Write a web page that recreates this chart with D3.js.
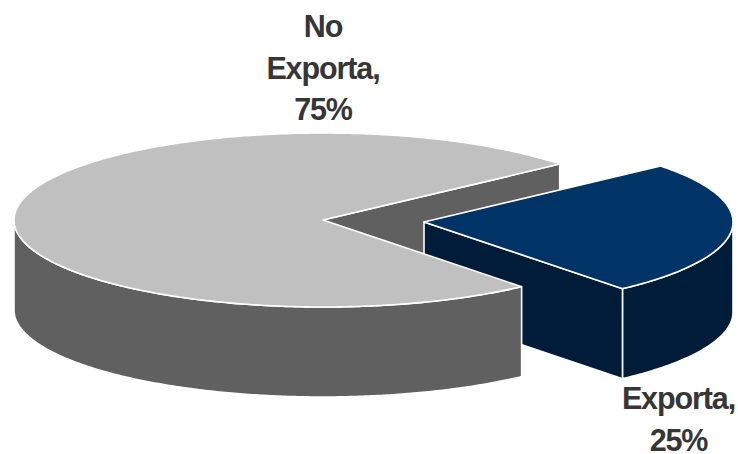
<!DOCTYPE html>
<html>
<head>
<meta charset="utf-8">
<script src="https://cdn.jsdelivr.net/npm/d3@7/dist/d3.min.js"></script>
<style>
  html, body { margin: 0; padding: 0; background: #fff; overflow: hidden; }
  svg { display: block; }
  text { font-family: "Liberation Sans", Arial, sans-serif; font-weight: bold; fill: #363636; }
</style>
</head>
<body>
<svg id="chart" width="738" height="454"></svg>
<script>
// Share of firms by export status
const categories = ["Exporta", "No Exporta"];
const shares = [25, 75];
const labelLines = [["Exporta,", "25%"], ["No", "Exporta,", "75%"]];
const topColors = ["#003366", "#C0C0C0"];
const wallColors = ["#001C38", "#606060"];

const radiusX = 309, radiusY = 87, depth = 90;
// Pie centres: the exporting slice is pulled out to the right
const centres = [[424, 222], [323, 220]];
const labelAnchors = [[678.5, 409], [323, 37]];
const lineHeight = 41.5, fontSize = 30.5;

const svg = d3.select("#chart");

// Slices start 40 degrees above the major axis and run clockwise
const firstAngle = -40 * Math.PI / 180;
const pie = d3.pie().sort(null).startAngle(firstAngle).endAngle(firstAngle + 2 * Math.PI);
const arcs = pie(shares);

// Tilted disc projection: angle 0 on the right, growing clockwise on screen
const rimPoint = (c, a) => [c[0] + radiusX * Math.cos(a), c[1] + radiusY * Math.sin(a)];
const line = d3.line();

function rimSamples(c, a0, a1) {
  const n = Math.max(2, Math.ceil(Math.abs(a1 - a0) / 0.01));
  return d3.range(n + 1).map(i => rimPoint(c, a0 + (a1 - a0) * i / n));
}

const drop = pts => pts.map(p => [p[0], p[1] + depth]);

function drawFace(d, color) {
  svg.append("path")
    .attr("d", d)
    .attr("fill", color)
    .attr("stroke", "#fff")
    .attr("stroke-width", 1.6)
    .attr("stroke-linejoin", "round");
}

const drawWall = (pts, color) => drawFace(line(pts.concat(drop(pts).reverse())) + "Z", color);

// Outer wall: only the front half of the rim faces the viewer
function drawOuterWall(i) {
  const from = Math.max(arcs[i].startAngle, 0);
  const to = Math.min(arcs[i].endAngle, Math.PI);
  drawWall(rimSamples(centres[i], from, to), wallColors[i]);
}

function drawTop(i) {
  const c = centres[i];
  drawFace(line([c].concat(rimSamples(c, arcs[i].startAngle, arcs[i].endAngle))) + "Z", topColors[i]);
}

const exporting = 0, other = 1;

// Cut face of the large slice, visible through the gap
drawWall([centres[other], rimPoint(centres[other], arcs[other].endAngle)], wallColors[other]);

// Pulled-out slice
drawWall([centres[exporting], rimPoint(centres[exporting], arcs[exporting].endAngle)], wallColors[exporting]);
drawOuterWall(exporting);
drawTop(exporting);

// Large slice sits in front of the pulled-out slice's cut face
drawOuterWall(other);
drawTop(other);

// Data labels
labelLines.forEach((lines, i) => {
  const t = svg.append("text")
    .attr("text-anchor", "middle")
    .attr("font-size", fontSize)
    .attr("letter-spacing", -1.1);
  lines.forEach((s, j) => {
    t.append("tspan")
      .attr("x", labelAnchors[i][0])
      .attr("y", labelAnchors[i][1] + j * lineHeight)
      .text(s);
  });
});
</script>
</body>
</html>
